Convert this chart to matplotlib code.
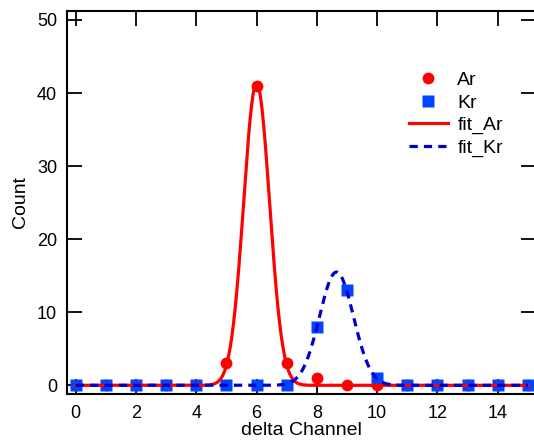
import numpy as np
import matplotlib
matplotlib.use('Agg')
import matplotlib.pyplot as plt

plt.rcParams['font.family'] = ['Liberation Sans', 'DejaVu Sans']
plt.rcParams['font.size'] = 14

# data
channel = np.arange(16)
ar_count = [0, 0, 0, 0, 0, 3, 41, 3, 1, 0, 0, 0, 0, 0, 0, 0]
kr_count = [0, 0, 0, 0, 0, 0, 0, 0, 8, 13, 1, 0, 0, 0, 0, 0]

# gaussian fit parameters (amplitude, centre, width)
fit_ar = (41.3, 6.0, 0.43)
fit_kr = (15.5, 8.65, 0.565)


def gauss(x, a, x0, s):
    return a * np.exp(-(x - x0) ** 2 / (2 * s ** 2))


xf = np.linspace(0, 15, 600)

fig = plt.figure(figsize=(5.34, 4.43), dpi=100)
# right spine sits just past the picture edge, as in the original
ax = fig.add_axes([0.1249, 0.1106, 0.8789, 0.8646])

ax.plot(channel, ar_count, 'o', color='#ff0000', ms=8.5, mec='none', label='Ar', zorder=2)
ax.plot(channel, kr_count, 's', color='#0044ff', ms=9, mec='none', label='Kr', zorder=3)
ax.plot(xf, gauss(xf, *fit_ar), '-', color='#ff0000', lw=2.3, label='fit_Ar', zorder=4)
ax.plot(xf, gauss(xf, *fit_kr), '--', color='#0000cc', lw=2.3, dashes=(2.6, 1.9),
        label='fit_Kr', zorder=5)

ax.set_xlim(-0.30, 15.27)
ax.set_ylim(-1.19, 51.23)
ax.set_xticks(np.arange(0, 16, 2))
ax.set_yticks(np.arange(0, 60, 10))
ax.tick_params(direction='in', length=10.5, width=1.3, top=True, right=True,
               labelsize=13)
ax.tick_params(axis='x', pad=8)
ax.tick_params(axis='y', pad=7)
for sp in ax.spines.values():
    sp.set_linewidth(1.5)

ax.set_xlabel('delta Channel', labelpad=0)
ax.set_ylabel('Count', labelpad=6)

ax.legend(loc='upper left', bbox_to_anchor=(0.729, 0.842), frameon=False,
          handlelength=2.0, labelspacing=0.25, handletextpad=0.5, borderpad=0,
          borderaxespad=0)

fig.savefig('out.png', dpi=100)
